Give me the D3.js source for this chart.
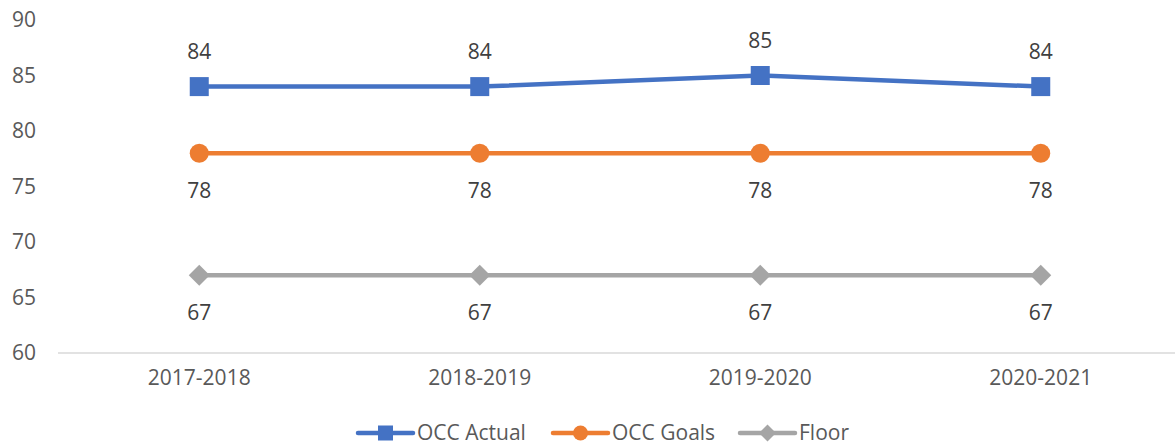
<!DOCTYPE html>
<html>
<head>
<meta charset="utf-8">
<script src="https://cdn.jsdelivr.net/npm/d3@7"></script>
<style>
  body { margin: 0; background: #fff; }
  svg { display: block; font-family: "Open Sans", sans-serif; }
</style>
</head>
<body>
<div id="chart"></div>
<script>
var years = ["2017-2018", "2018-2019", "2019-2020", "2020-2021"];
var occActual = [84, 84, 85, 84];
var occGoals = [78, 78, 78, 78];
var floorVals = [67, 67, 67, 67];
var yTicks = [60, 65, 70, 75, 80, 85, 90];

var width = 1175, height = 446;
var fontSize = 21;

var series = [
    { name: "OCC Actual", values: occActual, color: "#4472C4", marker: "square", labelPos: "above" },
    { name: "OCC Goals", values: occGoals, color: "#ED7D31", marker: "circle", labelPos: "below" },
    { name: "Floor", values: floorVals, color: "#A5A5A5", marker: "diamond", labelPos: "below" }
];

var svg = d3.select("#chart")
    .append("svg")
    .attr("width", width)
    .attr("height", height);

var x = d3.scalePoint()
    .domain(years)
    .range([59, 1181])
    .padding(0.5);

var y = d3.scaleLinear()
    .domain([60, 90])
    .range([353, 20]);

// y labels, no axis line
svg.append("g")
    .selectAll("text")
    .data(yTicks)
    .enter()
    .append("text")
    .attr("x", 36)
    .attr("y", function (d) { return y(d); })
    .attr("dy", "0.35em")
    .attr("text-anchor", "end")
    .attr("font-size", fontSize)
    .attr("fill", "#595959")
    .text(function (d) { return d; });

// bottom axis line
svg.append("line")
    .attr("x1", 58)
    .attr("x2", width)
    .attr("y1", y(60))
    .attr("y2", y(60))
    .attr("stroke", "#D9D9D9")
    .attr("stroke-width", 1.5);

svg.append("g")
    .selectAll("text")
    .data(years)
    .enter()
    .append("text")
    .attr("x", function (d) { return x(d); })
    .attr("y", 385)
    .attr("text-anchor", "middle")
    .attr("font-size", fontSize)
    .attr("fill", "#595959")
    .text(function (d) { return d; });

function drawMarker(g, type, color, size) {
    var s = size / 2;
    if (type === "square") {
        g.append("rect")
            .attr("x", -s).attr("y", -s)
            .attr("width", size).attr("height", size)
            .attr("fill", color);
    } else if (type === "circle") {
        g.append("circle")
            .attr("r", s)
            .attr("fill", color);
    } else {
        g.append("path")
            .attr("d", "M0," + (-s - 1) + "L" + (s + 1) + ",0L0," + (s + 1) + "L" + (-s - 1) + ",0Z")
            .attr("fill", color);
    }
}

var line = d3.line()
    .x(function (d, i) { return x(years[i]); })
    .y(function (d) { return y(d); });

series.forEach(function (s) {
    var g = svg.append("g");
    g.append("path")
        .datum(s.values)
        .attr("d", line)
        .attr("fill", "none")
        .attr("stroke", s.color)
        .attr("stroke-width", 4.5);

    s.values.forEach(function (v, i) {
        var m = g.append("g")
            .attr("transform", "translate(" + x(years[i]) + "," + y(v) + ")");
        drawMarker(m, s.marker, s.color, 19);

        g.append("text")
            .attr("x", x(years[i]))
            .attr("y", y(v) + (s.labelPos === "above" ? -35 : 37))
            .attr("dy", "0.35em")
            .attr("text-anchor", "middle")
            .attr("font-size", fontSize)
            .attr("fill", "#404040")
            .text(v);
    });
});

// legend
var legendX = [358, 553, 740];
var legend = svg.append("g");
series.forEach(function (s, i) {
    var lg = legend.append("g")
        .attr("transform", "translate(" + legendX[i] + ",433)");
    lg.append("line")
        .attr("x1", 0).attr("x2", 55)
        .attr("y1", 0).attr("y2", 0)
        .attr("stroke", s.color)
        .attr("stroke-width", 4.5)
        .attr("stroke-linecap", "round");
    var m = lg.append("g").attr("transform", "translate(27.5,0)");
    drawMarker(m, s.marker, s.color, 15);
    lg.append("text")
        .attr("x", 59)
        .attr("y", 0)
        .attr("dy", "0.35em")
        .attr("font-size", fontSize)
        .attr("fill", "#595959")
        .text(s.name);
});
</script>
</body>
</html>
